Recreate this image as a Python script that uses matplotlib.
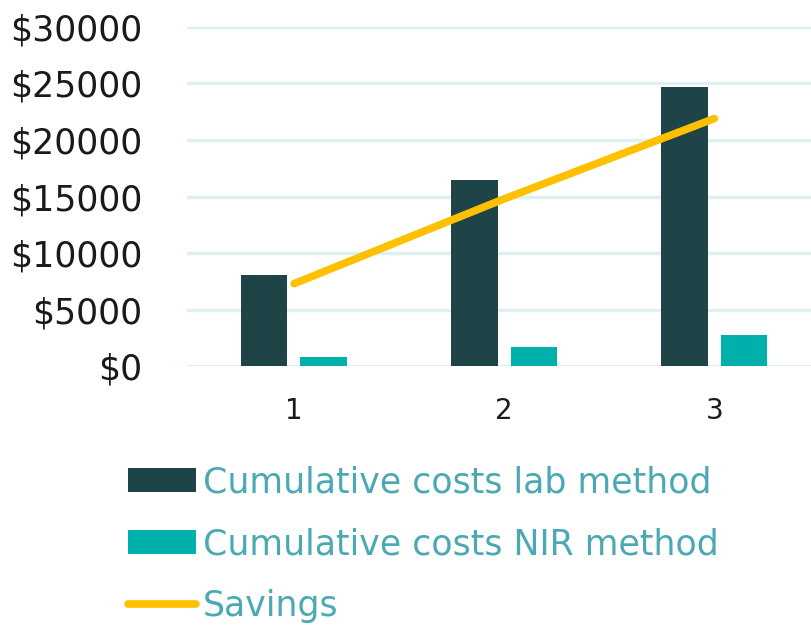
import numpy as np
import matplotlib.pyplot as plt

years = [1, 2, 3]
lab_costs = [8100, 16500, 24700]
nir_costs = [800, 1700, 2800]
savings = [7300, 14800, 21900]
y_ticks = [0, 5000, 10000, 15000, 20000, 25000, 30000]

dark = "#1f4447"
teal = "#00b0aa"
gold = "#ffc000"
text_teal = "#4aa9b3"
grid_col = "#dff0f3"

fig = plt.figure(figsize=(8.11, 6.27), dpi=100)
ax = fig.add_axes([0.2306, 0.416, 0.7694, 0.541])

x = np.array(years)
w = 0.22
b1 = ax.bar(x - 0.142, lab_costs, w, color=dark, label="Cumulative costs lab method", zorder=2)
b2 = ax.bar(x + 0.14, nir_costs, w, color=teal, label="Cumulative costs NIR method", zorder=2)
l1, = ax.plot(x, savings, color=gold, lw=5.5, solid_capstyle="round", label="Savings", zorder=3)

ax.set_xlim(0.49, 3.46)
ax.set_ylim(0, 30000)
ax.set_yticks(y_ticks)
ax.set_yticklabels([f"${v}" for v in y_ticks], fontsize=25, color="#1a1a1a")
ax.set_xticks(years)
ax.set_xticklabels([str(v) for v in years], fontsize=20, color="#1a1a1a")
ax.tick_params(length=0, axis="y", pad=32)
ax.tick_params(length=0, axis="x", pad=22)
ax.grid(axis="y", color=grid_col, lw=2.5, zorder=0)
for s in ax.spines.values():
    s.set_visible(False)

leg = fig.legend(handles=[b1, b2, l1], loc="upper left", bbox_to_anchor=(0.158, 0.258),
                 frameon=False, fontsize=25, handlelength=1.95, handletextpad=0.2,
                 labelspacing=0.8, borderaxespad=0, borderpad=0)
for t in leg.get_texts():
    t.set_color(text_teal)

fig.savefig("out.png", dpi=100)
